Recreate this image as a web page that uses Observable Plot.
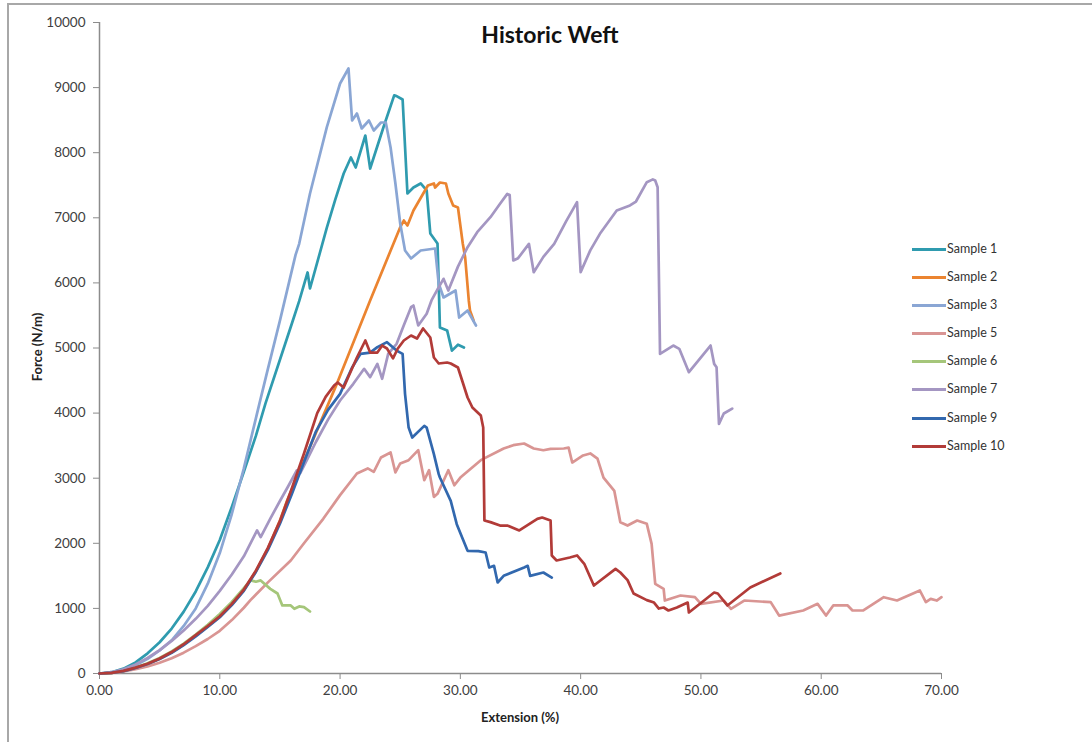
<!DOCTYPE html>
<html>
<head>
<meta charset="utf-8">
<script src="https://cdn.jsdelivr.net/npm/d3@7"></script>
<script src="https://cdn.jsdelivr.net/npm/@observablehq/plot@0.6"></script>
<style>
  html, body { margin: 0; padding: 0; background: #fff; overflow: hidden; }
  #chart { position: relative; width: 1092px; height: 742px; font-family: Lato, "Open Sans", sans-serif; color: #404040; }
  #frame { position: absolute; left: 7px; top: 3px; width: 1200px; height: 800px; border-left: 2px solid #a8a8a8; border-top: 2px solid #a8a8a8; }
  #chart svg { position: absolute; left: 0; top: 0; }
  #title { position: absolute; left: 0; width: 1100px; top: 20px; text-align: center; font-weight: bold; font-size: 23px; color: #111; }
  #xlabel { position: absolute; left: 420px; width: 200px; top: 709px; text-align: center; font-weight: bold; font-size: 13px; color: #222; }
  #ylabel { position: absolute; left: 37px; top: 347px; transform: translate(-50%, -50%) rotate(-90deg); font-weight: bold; font-size: 13px; color: #222; white-space: nowrap; }
  #legend { position: absolute; left: 912px; top: 240px; }
  .row { position: relative; height: 28.1px; }
  .row .sw { position: absolute; left: 0; top: 8px; width: 34px; height: 3px; }
  .row .lb { position: absolute; left: 35px; top: 0; font-size: 12.5px; line-height: 18px; color: #333; white-space: nowrap; }
</style>
</head>
<body>
<div id="chart">
  <div id="frame"></div>
  <div id="title">Historic Weft</div>
  <div id="xlabel">Extension (%)</div>
  <div id="ylabel">Force (N/m)</div>
  <div id="legend"></div>
</div>
<script>
// Force–extension curves, [extension %, force N/m]
const sample1 = [[0,0],[1,20],[2,75],[3,170],[4,310],[5,480],[6,690],[7,950],[8,1260],[9,1630],[10,2050],[11,2560],[12,3100],[13,3650],[13.8,4150],[15,4820],[16,5380],[16.6,5720],[17.3,6160],[17.5,5914],[18.2,6380],[18.9,6850],[19.6,7280],[20.3,7680],[20.9,7926],[21.3,7773],[22.1,8264],[22.5,7757],[23.6,8387],[24.5,8880],[24.7,8870],[25.2,8817],[25.6,7373],[26.1,7465],[26.7,7527],[27.2,7420],[27.5,6760],[28.1,6605],[28.2,5990],[28.3,5315],[28.9,5270],[29.3,4960],[29.8,5050],[30.3,5008]];
const sample2 = [[0,0],[1,10],[2,38],[3,88],[4,150],[5,228],[6,325],[7,445],[8,580],[9,725],[10,875],[11,1060],[12,1280],[13,1570],[14,1920],[15,2350],[15.6,2657],[19.8,4480],[22.5,5730],[25.0,6856],[25.3,6958],[25.6,6882],[26.1,7112],[27.3,7496],[27.8,7527],[27.9,7465],[28.3,7542],[28.8,7527],[29.0,7373],[29.4,7189],[29.8,7158],[30.2,6605],[30.4,6390],[30.7,5730],[30.8,5576],[31.1,5422]];
const sample3 = [[0,0],[1,15],[2,55],[3,125],[4,225],[5,355],[6,510],[7,730],[8,1000],[9,1380],[10,1850],[11,2450],[12,3150],[13.3,4150],[14,4680],[15,5420],[16.3,6430],[16.6,6600],[17.5,7373],[18.9,8392],[20.0,9063],[20.7,9293],[21.0,8495],[21.4,8602],[21.8,8372],[22.4,8495],[22.8,8341],[23.4,8464],[23.8,8464],[24.2,8080],[24.6,7527],[25.0,6912],[25.4,6498],[25.9,6375],[26.7,6498],[27.9,6528],[28.2,5990],[28.6,5776],[29.6,5883],[29.9,5468],[30.6,5576],[31.3,5346]];
const sample5 = [[0,0],[1,8],[2,30],[3,65],[4,110],[5,165],[6,235],[7,320],[8,420],[9,530],[10,655],[11,820],[12,1010],[12.55,1127],[14,1400],[15.9,1736],[17,2000],[18.6,2376],[20,2740],[21.4,3072],[22.3,3150],[22.8,3098],[23.4,3318],[24.2,3395],[24.6,3088],[25.0,3226],[25.7,3277],[26.5,3431],[27.0,2969],[27.4,3123],[27.8,2713],[28.1,2760],[29.0,3123],[29.5,2892],[30.0,3010],[31.7,3277],[33.6,3456],[34.4,3507],[35.3,3533],[36.1,3456],[36.9,3430],[37.5,3451],[38.6,3456],[39.0,3470],[39.3,3241],[40.2,3349],[40.8,3380],[41.4,3300],[41.9,3010],[42.8,2805],[43.3,2324],[43.9,2273],[44.7,2350],[45.5,2299],[45.9,1992],[46.2,1377],[46.9,1300],[47.0,1121],[48.3,1198],[49.5,1172],[50.0,1070],[51.9,1121],[52.5,994],[53.6,1121],[55.8,1096],[56.5,890],[58.5,968],[59.7,1070],[60.4,890],[61.0,1045],[62.2,1045],[62.6,968],[63.5,968],[65.2,1172],[66.3,1121],[68.2,1275],[68.7,1096],[69.1,1147],[69.6,1121],[70.0,1172]];
const sample6 = [[0,0],[1,10],[2,40],[3,92],[4,158],[5,240],[6,340],[7,460],[8,598],[9,750],[10,915],[11,1100],[12,1310],[12.55,1430],[13.0,1410],[13.4,1430],[14.2,1300],[14.8,1229],[15.2,1045],[15.9,1045],[16.2,994],[16.6,1030],[17.0,1020],[17.5,952]];
const sample7 = [[0,0],[1,20],[2,65],[3,140],[4,240],[5,360],[6,500],[7,660],[8,840],[9,1040],[10,1270],[11,1520],[12,1800],[13.1,2197],[13.4,2094],[14.2,2380],[15,2650],[15.7,2880],[16.4,3118],[16.7,3080],[17.3,3300],[18,3560],[19,3900],[20,4194],[21.1,4450],[22.0,4680],[22.5,4552],[23.1,4757],[23.5,4527],[24.0,4910],[24.7,5064],[25.3,5350],[25.9,5627],[26.1,5653],[26.5,5346],[27.2,5525],[27.6,5730],[28.1,5900],[28.6,6063],[29.0,5883],[29.8,6250],[30.6,6549],[31.4,6779],[32.5,7009],[33.3,7215],[33.9,7368],[34.1,7350],[34.4,6344],[34.8,6380],[35.7,6600],[36.1,6165],[36.9,6400],[37.8,6600],[38.8,6950],[39.7,7240],[40.0,6165],[40.8,6500],[41.6,6754],[43.0,7112],[44.1,7189],[44.6,7250],[45.5,7547],[46.0,7590],[46.2,7573],[46.4,7470],[46.6,4910],[47.7,5038],[48.2,4987],[49.0,4628],[50.8,5038],[51.1,4756],[51.3,4705],[51.5,3835],[51.9,3994],[52.6,4070]];
const sample9 = [[0,0],[1,10],[2,36],[3,85],[4,145],[5,222],[6,318],[7,436],[8,570],[9,715],[10,865],[11,1050],[12,1270],[13,1560],[14,1900],[15,2300],[16,2760],[17,3250],[18,3720],[19,4050],[20.0,4296],[21.0,4700],[21.7,4910],[22.5,4930],[23.1,5013],[23.9,5090],[24.7,4960],[25.2,4910],[25.4,4296],[25.7,3778],[26.0,3625],[27.0,3804],[27.2,3778],[27.8,3369],[28.2,3062],[28.3,3010],[29.2,2652],[29.7,2294],[30.6,1884],[31.5,1880],[32.1,1858],[32.4,1628],[32.8,1654],[33.1,1398],[33.6,1500],[35.3,1628],[35.6,1654],[35.8,1500],[36.9,1551],[37.6,1474]];
const sample10 = [[0,0],[1,10],[2,40],[3,90],[4,150],[5,230],[6,330],[7,450],[8,590],[9,730],[10,880],[11,1070],[12,1290],[13,1580],[14,1930],[15,2340],[16,2850],[17,3380],[18.1,4000],[18.8,4250],[19.5,4424],[19.8,4470],[20.3,4393],[21.4,4854],[22.1,5115],[22.5,4930],[23.1,4930],[23.5,5038],[23.9,4992],[24.4,4840],[24.8,4992],[25.3,5115],[25.9,5192],[26.4,5146],[26.9,5300],[27.5,5161],[27.8,4854],[28.2,4762],[28.9,4777],[29.2,4762],[29.8,4700],[30.2,4470],[30.6,4240],[31.0,4086],[31.7,3963],[31.9,3780],[32.0,2350],[32.5,2325],[33.3,2273],[33.9,2273],[34.9,2197],[36.4,2376],[36.8,2396],[37.5,2350],[37.6,1813],[38.0,1736],[39.1,1782],[39.7,1813],[40.3,1685],[41.1,1352],[42.9,1608],[43.3,1551],[43.9,1434],[44.4,1229],[45.5,1127],[46.1,1090],[46.5,998],[46.9,1014],[47.3,968],[48.0,1014],[48.9,1090],[49.0,937],[51.1,1244],[51.4,1229],[52.2,1045],[54.1,1321],[56.6,1536]];

const seriesNames = ["Sample 1","Sample 2","Sample 3","Sample 5","Sample 6","Sample 7","Sample 9","Sample 10"];
const seriesColors = ["#2F9BAF","#EB8430","#8AA6D4","#D99593","#A5C67A","#A496C2","#3268AE","#B23B38"];
const seriesData = [sample1, sample2, sample3, sample5, sample6, sample7, sample9, sample10];

const xTicks = [0,10,20,30,40,50,60,70];
const yTicks = [0,1000,2000,3000,4000,5000,6000,7000,8000,9000,10000];

const rows = seriesNames.flatMap((name, i) => seriesData[i].map(([x, y]) => ({name, x, y})));

const plot = Plot.plot({
  width: 1092,
  height: 742,
  marginLeft: 99,
  marginRight: 151,
  marginTop: 22,
  marginBottom: 69,
  style: {fontFamily: "Lato, 'Open Sans', sans-serif", fontSize: "13.5px", background: "transparent"},
  x: {domain: [0, 70]},
  y: {domain: [0, 10000]},
  color: {domain: seriesNames, range: seriesColors},
  marks: [
    Plot.axisX({ticks: xTicks, tickFormat: d => d.toFixed(2), tickSize: 6, tickPadding: 6, stroke: "#8c8c8c", fill: "#404040", label: null}),
    Plot.axisY({ticks: yTicks, tickFormat: d => String(d), tickSize: 6, tickPadding: 8, stroke: "#8c8c8c", fill: "#404040", label: null}),
    Plot.ruleX([0], {stroke: "#8c8c8c", strokeWidth: 1.5}),
    Plot.ruleY([0], {stroke: "#8c8c8c", strokeWidth: 1.5}),
    Plot.line(rows, {x: "x", y: "y", z: "name", stroke: "name", strokeWidth: 2.7, curve: "linear", strokeLinejoin: "round", strokeLinecap: "round"})
  ]
});
document.getElementById("chart").appendChild(plot);

// Legend
const legend = document.getElementById("legend");
seriesNames.forEach((name, i) => {
  const row = document.createElement("div");
  row.className = "row";
  row.innerHTML = `<div class="sw" style="background:${seriesColors[i]}"></div><div class="lb">${name}</div>`;
  legend.appendChild(row);
});
</script>
</body>
</html>
